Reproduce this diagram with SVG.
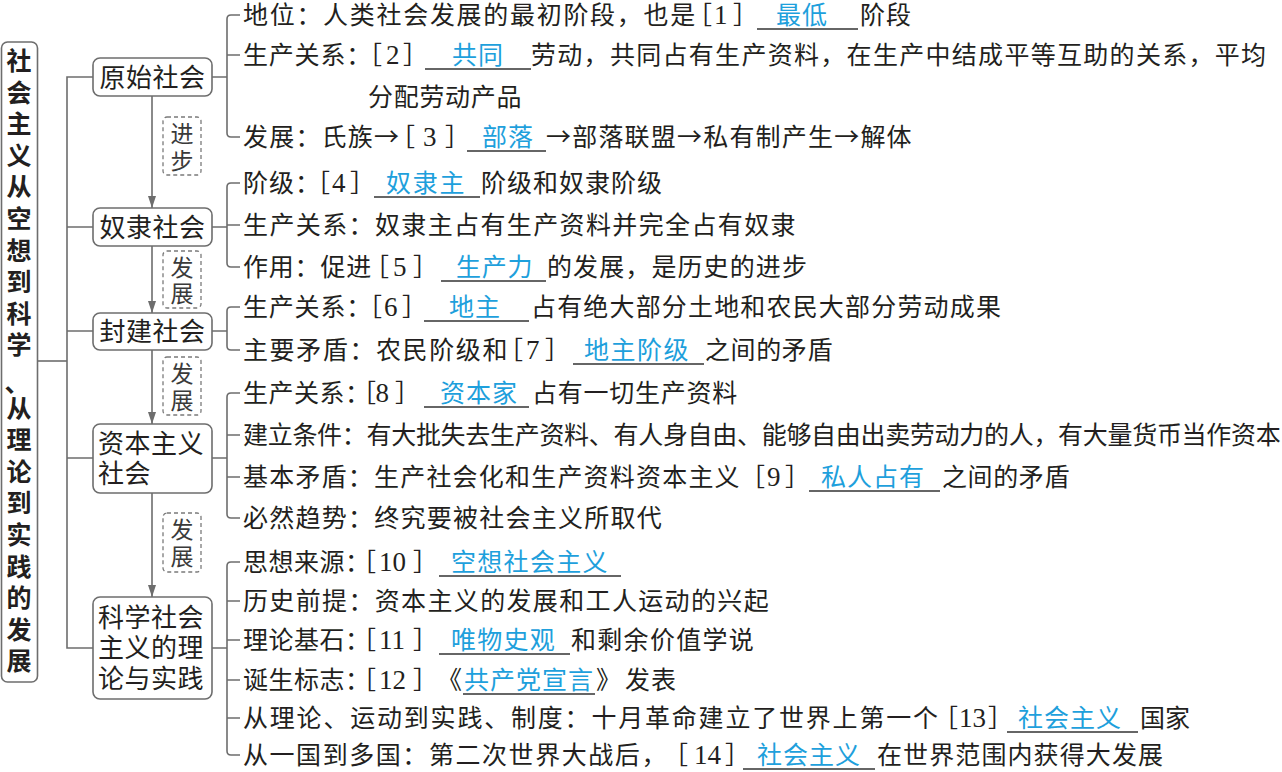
<svg xmlns="http://www.w3.org/2000/svg" width="1282" height="772" viewBox="0 0 1282 772">
<defs>
<style>
.t{font-family:"Noto Sans CJK SC","Noto Sans CJK JP",sans-serif;font-size:25px;fill:#231f20}
.bl{fill:#1ea0dc}
.n{font-family:"Liberation Serif",serif;font-size:27px;fill:#231f20}
.nt{font-family:"Noto Sans CJK SC",sans-serif;font-size:26px;fill:#231f20}
.rt{font-family:"Noto Sans CJK SC",sans-serif;font-size:25px;font-weight:700;fill:#231f20}
.lb{font-family:"Noto Sans CJK SC",sans-serif;font-size:23px;fill:#3a3a3a}
.box{fill:#fff;stroke:#6d6d6d;stroke-width:1.6}
.dash{fill:none;stroke:#7a7a7a;stroke-width:1.3;stroke-dasharray:4 3}
.ln{fill:none;stroke:#6d6d6d;stroke-width:1.6}
.ul{stroke:#333;stroke-width:1.4}
</style>
<marker id="ah" viewBox="0 0 12 8" refX="12" refY="4" markerWidth="12" markerHeight="8" markerUnits="userSpaceOnUse" orient="auto">
<path d="M0,0 L12,4 L0,8 z" fill="#6d6d6d"/>
</marker>
</defs>
<rect width="1282" height="772" fill="#fff"/>

<g id="connectors">
<path class="ln" d="M38,361 H67"/>
<path class="ln" d="M93,77 H67 V648 H93 M67,227 H93 M67,331 H93 M67,458 H93"/>
<path class="ln" d="M152,96 V208" marker-end="url(#ah)"/>
<path class="ln" d="M152,246 V313" marker-end="url(#ah)"/>
<path class="ln" d="M152,350 V424" marker-end="url(#ah)"/>
<path class="ln" d="M152,493 V597" marker-end="url(#ah)"/>
<path class="ln" d="M212,77 H227 M240,15 H231 Q227,15 227,19 V133 Q227,137 231,137 H240 M227,55 H240"/>
<path class="ln" d="M212,227 H227 M240,183 H231 Q227,183 227,187 V263 Q227,267 231,267 H240 M227,225 H240"/>
<path class="ln" d="M212,331 H227 M240,307 H231 Q227,307 227,311 V346 Q227,350 231,350 H240"/>
<path class="ln" d="M212,458 H227 M240,393 H231 Q227,393 227,397 V514 Q227,518 231,518 H240 M227,435 H240 M227,477 H240"/>
<path class="ln" d="M212,648 H227 M240,562 H231 Q227,562 227,566 V751 Q227,755 231,755 H240 M227,601 H240 M227,640 H240 M227,680 H240 M227,718 H240"/>
<g id="edge-labels">
<rect class="dash" x="163" y="117" width="38" height="58" rx="4"/>
<text class="lb" x="182" y="142" text-anchor="middle">进</text>
<text class="lb" x="182" y="169" text-anchor="middle">步</text>
<rect class="dash" x="163" y="251" width="38" height="57" rx="4"/>
<text class="lb" x="182" y="276" text-anchor="middle">发</text>
<text class="lb" x="182" y="302" text-anchor="middle">展</text>
<rect class="dash" x="163" y="357" width="38" height="58" rx="4"/>
<text class="lb" x="182" y="382" text-anchor="middle">发</text>
<text class="lb" x="182" y="409" text-anchor="middle">展</text>
<rect class="dash" x="163" y="513" width="38" height="59" rx="4"/>
<text class="lb" x="182" y="538" text-anchor="middle">发</text>
<text class="lb" x="182" y="565" text-anchor="middle">展</text>
</g>
</g>

<g id="root">
<rect class="box" x="1.5" y="42" width="36" height="640" rx="6"/>
<text class="rt" x="19" text-anchor="middle">
<tspan x="19" y="70">社</tspan><tspan x="19" y="101.6">会</tspan><tspan x="19" y="133.2">主</tspan><tspan x="19" y="164.8">义</tspan><tspan x="19" y="196.4">从</tspan><tspan x="19" y="228">空</tspan><tspan x="19" y="259.6">想</tspan><tspan x="19" y="291.2">到</tspan><tspan x="19" y="322.8">科</tspan><tspan x="19" y="354.4">学</tspan><tspan x="17" y="392">、</tspan><tspan x="19" y="417.6">从</tspan><tspan x="19" y="449.2">理</tspan><tspan x="19" y="480.8">论</tspan><tspan x="19" y="512.4">到</tspan><tspan x="19" y="544">实</tspan><tspan x="19" y="575.6">践</tspan><tspan x="19" y="607.2">的</tspan><tspan x="19" y="638.8">发</tspan><tspan x="19" y="670.4">展</tspan>
</text>
</g>

<g id="node-yuanshi">
<rect class="box" x="93" y="58" width="119" height="38" rx="7"/>
<text class="nt" x="152.5" y="86.5" text-anchor="middle" letter-spacing="0.5">原始社会</text>
</g>
<g id="node-nuli">
<rect class="box" x="93" y="208" width="119" height="38" rx="7"/>
<text class="nt" x="152.5" y="236.5" text-anchor="middle" letter-spacing="0.5">奴隶社会</text>
</g>
<g id="node-fengjian">
<rect class="box" x="93" y="313" width="119" height="37" rx="7"/>
<text class="nt" x="152.5" y="340.5" text-anchor="middle" letter-spacing="0.5">封建社会</text>
</g>
<g id="node-ziben">
<rect class="box" x="93" y="424" width="119" height="69" rx="7"/>
<text class="nt" letter-spacing="0.5"><tspan x="98" y="452.5">资本主义</tspan><tspan x="98" y="482.5">社会</tspan></text>
</g>
<g id="node-kexue">
<rect class="box" x="93" y="597" width="119" height="102" rx="7"/>
<text class="nt" letter-spacing="0.5"><tspan x="98" y="626.5">科学社会</tspan><tspan x="98" y="657">主义的理</tspan><tspan x="98" y="687.5">论与实践</tspan></text>
</g>

<g id="items-yuanshi">
<text class="t" y="24"><tspan x="243" letter-spacing="1.7">地位：人类社会发展的最初阶段，也是</tspan><tspan x="687">［</tspan><tspan class="n" x="714">1</tspan><tspan x="733">］</tspan><tspan class="bl" x="776" letter-spacing="1">最低</tspan><tspan x="860" letter-spacing="1">阶段</tspan></text>
<line class="ul" x1="757" y1="29" x2="858" y2="29"/>
<text class="t" y="64"><tspan x="243" letter-spacing="0.8">生产关系：</tspan><tspan x="357">［</tspan><tspan class="n" x="386">2</tspan><tspan x="403">］</tspan><tspan class="bl" x="452" letter-spacing="1">共同</tspan><tspan x="531" letter-spacing="1.3">劳动，共同占有生产资料，在生产中结成平等互助的关系，平均</tspan></text>
<line class="ul" x1="425" y1="69" x2="531" y2="69"/>
<text class="t" x="368" y="106" letter-spacing="0.7">分配劳动产品</text>
<text class="t" y="146"><tspan x="243" letter-spacing="1.2">发展：氏族→</tspan><tspan x="390">［</tspan><tspan class="n" x="423">3</tspan><tspan x="445">］</tspan><tspan class="bl" x="482" letter-spacing="1">部落</tspan><tspan x="546" letter-spacing="1.2">→部落联盟→私有制产生→解体</tspan></text>
<line class="ul" x1="467" y1="151" x2="546" y2="151"/>
</g>

<g id="items-nuli">
<text class="t" y="192"><tspan x="243" letter-spacing="1">阶级：</tspan><tspan x="305">［</tspan><tspan class="n" x="332">4</tspan><tspan x="350">］</tspan><tspan class="bl" x="386" letter-spacing="1.7">奴隶主</tspan><tspan x="481" letter-spacing="1">阶级和奴隶阶级</tspan></text>
<line class="ul" x1="374" y1="197" x2="480" y2="197"/>
<text class="t" x="243" y="234" letter-spacing="1.38">生产关系：奴隶主占有生产资料并完全占有奴隶</text>
<text class="t" y="276"><tspan x="243" letter-spacing="0.8">作用：促进</tspan><tspan x="364">［</tspan><tspan class="n" x="393">5</tspan><tspan x="413">］</tspan><tspan class="bl" x="456" letter-spacing="0.7">生产力</tspan><tspan x="547" letter-spacing="1.1">的发展，是历史的进步</tspan></text>
<line class="ul" x1="441" y1="281" x2="546" y2="281"/>
</g>

<g id="items-fengjian">
<text class="t" y="316"><tspan x="243" letter-spacing="0.8">生产关系：</tspan><tspan x="357">［</tspan><tspan class="n" x="384">6</tspan><tspan x="402">］</tspan><tspan class="bl" x="449" letter-spacing="1">地主</tspan><tspan x="531" letter-spacing="1.17">占有绝大部分土地和农民大部分劳动成果</tspan></text>
<line class="ul" x1="424" y1="321" x2="529" y2="321"/>
<text class="t" y="359"><tspan x="243" letter-spacing="1.6">主要矛盾：农民阶级和</tspan><tspan x="498">［</tspan><tspan class="n" x="526">7</tspan><tspan x="545">］</tspan><tspan class="bl" x="584" letter-spacing="1.5">地主阶级</tspan><tspan x="705" letter-spacing="0.6">之间的矛盾</tspan></text>
<line class="ul" x1="573" y1="364" x2="704" y2="364"/>
</g>

<g id="items-ziben">
<text class="t" y="402"><tspan x="243" letter-spacing="0.5">生产关系：</tspan><tspan x="351">［</tspan><tspan class="n" x="375.5">8</tspan><tspan x="395">］</tspan><tspan class="bl" x="440" letter-spacing="1">资本家</tspan><tspan x="532" letter-spacing="0.75">占有一切生产资料</tspan></text>
<line class="ul" x1="424" y1="407" x2="529" y2="407"/>
<text class="t" x="243" y="444" letter-spacing="-0.3">建立条件：有大批失去生产资料、有人身自由、能够自由出卖劳动力的人，有大量货币当作资本</text>
<text class="t" y="486"><tspan x="243" letter-spacing="1.2">基本矛盾：生产社会化和生产资料资本主义</tspan><tspan x="740">［</tspan><tspan class="n" x="767">9</tspan><tspan x="785">］</tspan><tspan class="bl" x="821" letter-spacing="1">私人占有</tspan><tspan x="942" letter-spacing="0.6">之间的矛盾</tspan></text>
<line class="ul" x1="809" y1="491" x2="940" y2="491"/>
<text class="t" x="243" y="527" letter-spacing="1.25">必然趋势：终究要被社会主义所取代</text>
</g>

<g id="items-kexue">
<text class="t" y="571"><tspan x="243" letter-spacing="0.5">思想来源：</tspan><tspan x="351">［</tspan><tspan class="n" x="379">10</tspan><tspan x="413">］</tspan><tspan class="bl" x="451" letter-spacing="1.3">空想社会主义</tspan></text>
<line class="ul" x1="439" y1="576" x2="621" y2="576"/>
<text class="t" x="243" y="610" letter-spacing="1.35">历史前提：资本主义的发展和工人运动的兴起</text>
<text class="t" y="649"><tspan x="243" letter-spacing="0.5">理论基石：</tspan><tspan x="351">［</tspan><tspan class="n" x="379">11</tspan><tspan x="413">］</tspan><tspan class="bl" x="451" letter-spacing="1.25">唯物史观</tspan><tspan x="571" letter-spacing="1.3">和剩余价值学说</tspan></text>
<line class="ul" x1="439" y1="654" x2="570" y2="654"/>
<text class="t" y="689"><tspan x="243" letter-spacing="0.5">诞生标志：</tspan><tspan x="351">［</tspan><tspan class="n" x="379">12</tspan><tspan x="413">］</tspan><tspan x="437">《</tspan><tspan class="bl" x="464" letter-spacing="1">共产党宣言</tspan><tspan x="596">》</tspan><tspan x="625" letter-spacing="1">发表</tspan></text>
<line class="ul" x1="463" y1="694" x2="595" y2="694"/>
<text class="t" y="727"><tspan x="243" letter-spacing="1.8">从理论、运动到实践、制度：十月革命建立了世界上第一个</tspan><tspan x="933">［</tspan><tspan class="n" x="959">13</tspan><tspan x="988">］</tspan><tspan class="bl" x="1018" letter-spacing="1">社会主义</tspan><tspan x="1140">国家</tspan></text>
<line class="ul" x1="1007" y1="732" x2="1138" y2="732"/>
<text class="t" y="764"><tspan x="243" letter-spacing="1.56">从一国到多国：第二次世界大战后，</tspan><tspan x="663">［</tspan><tspan class="n" x="694">14</tspan><tspan x="725">］</tspan><tspan class="bl" x="757" letter-spacing="1">社会主义</tspan><tspan x="877" letter-spacing="1.1">在世界范围内获得大发展</tspan></text>
<line class="ul" x1="743" y1="769" x2="875" y2="769"/>
</g>
</svg>
